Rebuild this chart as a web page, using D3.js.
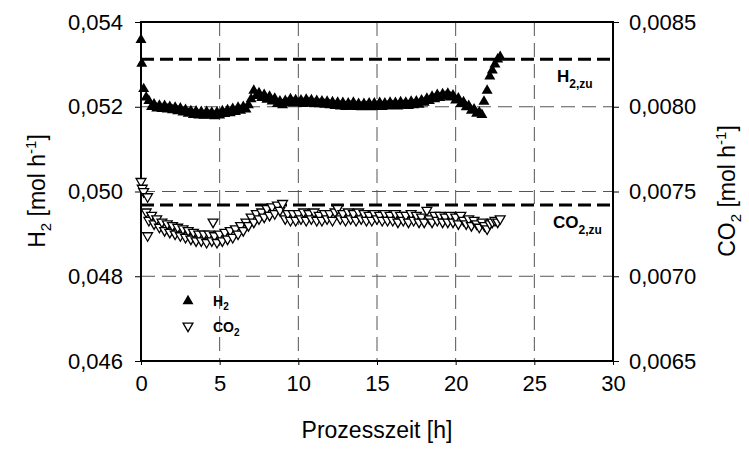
<!DOCTYPE html>
<html>
<head>
<meta charset="utf-8">
<script src="https://cdn.jsdelivr.net/npm/d3@7"></script>
<style>
  html, body { margin: 0; padding: 0; background: #fff; }
  svg { display: block; font-family: "Liberation Sans", Arial, Helvetica, sans-serif; }
</style>
</head>
<body>
<svg id="chart" width="749" height="449"></svg>
<script>
// Process time [h] and measured H2 flow [mol/h]
const h2Time = [0.00, 0.05, 0.17, 0.33, 0.50, 0.67, 0.83, 1.00, 1.17, 1.33, 1.50, 1.67, 1.83, 2.00, 2.17, 2.33, 2.50, 2.67, 2.83, 3.00,
  3.17, 3.33, 3.50, 3.67, 3.83, 4.00, 4.17, 4.33, 4.50, 4.67, 4.83, 5.00, 5.17, 5.33, 5.50, 5.67, 5.83, 6.00, 6.17, 6.33,
  6.50, 6.67, 6.83, 7.00, 7.17, 7.33, 7.50, 7.67, 7.83, 8.00, 8.17, 8.33, 8.50, 8.67, 8.83, 9.00, 9.17, 9.33, 9.50, 9.67,
  9.83, 10.00, 10.17, 10.33, 10.50, 10.67, 10.83, 11.00, 11.17, 11.33, 11.50, 11.67, 11.83, 12.00, 12.17, 12.33, 12.50, 12.67, 12.83, 13.00,
  13.17, 13.33, 13.50, 13.67, 13.83, 14.00, 14.17, 14.33, 14.50, 14.67, 14.83, 15.00, 15.17, 15.33, 15.50, 15.67, 15.83, 16.00, 16.17, 16.33,
  16.50, 16.67, 16.83, 17.00, 17.17, 17.33, 17.50, 17.67, 17.83, 18.00, 18.17, 18.33, 18.50, 18.67, 18.83, 19.00, 19.17, 19.33, 19.50, 19.67,
  19.83, 20.00, 20.17, 20.33, 20.50, 20.67, 20.83, 21.00, 21.17, 21.33, 21.50, 21.67, 21.80, 22.00, 22.17, 22.33, 22.50, 22.67, 22.83];
const h2Flow = [0.05358, 0.05302, 0.05242, 0.05222, 0.05214, 0.05200, 0.05206, 0.05196, 0.05203, 0.05195, 0.05202, 0.05194, 0.05200, 0.05192, 0.05198, 0.05190, 0.05196, 0.05187, 0.05193, 0.05184,
  0.05190, 0.05181, 0.05189, 0.05180, 0.05188, 0.05179, 0.05188, 0.05180, 0.05186, 0.05178, 0.05187, 0.05180, 0.05190, 0.05183, 0.05192, 0.05185, 0.05195, 0.05188, 0.05198, 0.05191,
  0.05200, 0.05194, 0.05204, 0.05218, 0.05238, 0.05226, 0.05232, 0.05221, 0.05228, 0.05217, 0.05224, 0.05213, 0.05219, 0.05207, 0.05213, 0.05204, 0.05214, 0.05208, 0.05218, 0.05209,
  0.05216, 0.05208, 0.05215, 0.05207, 0.05217, 0.05209, 0.05216, 0.05207, 0.05214, 0.05206, 0.05213, 0.05205, 0.05212, 0.05204, 0.05211, 0.05202, 0.05210, 0.05201, 0.05209, 0.05200,
  0.05208, 0.05201, 0.05210, 0.05200, 0.05207, 0.05199, 0.05207, 0.05200, 0.05208, 0.05199, 0.05208, 0.05201, 0.05209, 0.05200, 0.05208, 0.05201, 0.05210, 0.05202, 0.05209, 0.05201,
  0.05211, 0.05203, 0.05210, 0.05202, 0.05212, 0.05204, 0.05213, 0.05205, 0.05215, 0.05210, 0.05219, 0.05214, 0.05224, 0.05218, 0.05228, 0.05221, 0.05230, 0.05224, 0.05231, 0.05222,
  0.05227, 0.05215, 0.05220, 0.05207, 0.05211, 0.05199, 0.05202, 0.05191, 0.05194, 0.05184, 0.05187, 0.05181, 0.05212, 0.05238, 0.05272, 0.05286, 0.05300, 0.05312, 0.05318];

// Process time [h] and measured CO2 flow [mol/h]
const co2Time = [0.00, 0.08, 0.17, 0.42, 0.33, 0.50, 0.42, 0.67, 0.83, 1.00, 1.17, 1.33, 1.50, 1.67, 1.83, 2.00, 2.17, 2.33, 2.50, 2.67,
  2.83, 3.00, 3.17, 3.33, 3.50, 3.67, 3.83, 4.00, 4.17, 4.33, 4.50, 4.58, 4.67, 4.83, 5.00, 5.17, 5.33, 5.50, 5.67, 5.83,
  6.00, 6.17, 6.33, 6.50, 6.67, 6.83, 7.00, 7.17, 7.33, 7.50, 7.67, 7.83, 8.00, 8.17, 8.33, 8.50, 8.67, 8.83, 9.00, 9.17,
  9.33, 9.50, 9.67, 9.83, 10.00, 10.17, 10.33, 10.50, 10.67, 10.83, 11.00, 11.17, 11.33, 11.50, 11.67, 11.83, 12.00, 12.17, 12.33, 12.50,
  12.67, 12.83, 13.00, 13.17, 13.33, 13.50, 13.67, 13.83, 14.00, 14.17, 14.33, 14.50, 14.67, 14.83, 15.00, 15.17, 15.33, 15.50, 15.67, 15.83,
  16.00, 16.17, 16.33, 16.50, 16.67, 16.83, 17.00, 17.17, 17.33, 17.50, 17.67, 17.83, 18.00, 18.17, 18.33, 18.50, 18.67, 18.83, 19.00, 19.17,
  19.33, 19.50, 19.67, 19.83, 20.00, 20.17, 20.33, 20.50, 20.67, 20.83, 21.00, 21.17, 21.33, 21.50, 21.67, 21.83, 22.00, 22.17, 22.33, 22.50,
  22.67, 22.83];
const co2Flow = [0.00756, 0.00752, 0.00750, 0.00747, 0.00738, 0.00733, 0.00724, 0.00736, 0.00731, 0.00734, 0.00729, 0.00732, 0.00727, 0.00731, 0.00726, 0.00730, 0.00725, 0.00729, 0.00724, 0.00728,
  0.00723, 0.00727, 0.00722, 0.00726, 0.00721, 0.00725, 0.00721, 0.00725, 0.00720, 0.00725, 0.00721, 0.00732, 0.00724, 0.00720, 0.00725, 0.00721, 0.00726, 0.00722, 0.00727, 0.00723,
  0.00728, 0.00725, 0.00730, 0.00727, 0.00732, 0.00730, 0.00735, 0.00732, 0.00737, 0.00734, 0.00738, 0.00735, 0.00740, 0.00736, 0.00741, 0.00737, 0.00742, 0.00739, 0.00743, 0.00734,
  0.00737, 0.00733, 0.00737, 0.00733, 0.00737, 0.00734, 0.00738, 0.00733, 0.00737, 0.00734, 0.00738, 0.00733, 0.00736, 0.00733, 0.00737, 0.00734, 0.00737, 0.00733, 0.00738, 0.00740,
  0.00734, 0.00737, 0.00733, 0.00738, 0.00734, 0.00737, 0.00733, 0.00738, 0.00734, 0.00737, 0.00733, 0.00736, 0.00733, 0.00737, 0.00734, 0.00736, 0.00733, 0.00737, 0.00733, 0.00736,
  0.00733, 0.00737, 0.00732, 0.00736, 0.00733, 0.00736, 0.00732, 0.00737, 0.00733, 0.00736, 0.00732, 0.00735, 0.00732, 0.00739, 0.00734, 0.00732, 0.00736, 0.00733, 0.00736, 0.00732,
  0.00735, 0.00732, 0.00736, 0.00732, 0.00735, 0.00731, 0.00736, 0.00733, 0.00731, 0.00734, 0.00730, 0.00733, 0.00731, 0.00729, 0.00732, 0.00730, 0.00728, 0.00731, 0.00732, 0.00733,
  0.00732, 0.00734];

// Feed rates (dashed reference lines)
const h2Feed = 0.05312;
const co2Feed = 0.00742;

// Axis ticks
const timeTicks = [0, 5, 10, 15, 20, 25, 30];
const h2Ticks = [0.046, 0.048, 0.050, 0.052, 0.054];
const co2Ticks = [0.0065, 0.0070, 0.0075, 0.0080, 0.0085];

const svg = d3.select("#chart");
const m = { left: 141, top: 22, right: 613, bottom: 361 };

const x = d3.scaleLinear().domain([0, 30]).range([m.left, m.right]);
const yL = d3.scaleLinear().domain([0.046, 0.054]).range([m.bottom, m.top]);
const yR = d3.scaleLinear().domain([0.0065, 0.0085]).range([m.bottom, m.top]);

const comma = (digits) => (d) => d.toFixed(digits).replace(".", ",");

// Grid lines
const grid = svg.append("g").attr("stroke", "#555").attr("stroke-width", 1).attr("stroke-dasharray", "14,7");
grid.selectAll("line.v").data(timeTicks.slice(1, -1)).join("line")
  .attr("x1", d => x(d)).attr("x2", d => x(d)).attr("y1", m.top).attr("y2", m.bottom);
grid.selectAll("line.h").data(h2Ticks.slice(1, -1)).join("line")
  .attr("x1", m.left).attr("x2", m.right).attr("y1", d => yL(d)).attr("y2", d => yL(d));

// Feed reference lines
svg.append("line").attr("x1", m.left).attr("x2", m.right)
  .attr("y1", yL(h2Feed)).attr("y2", yL(h2Feed))
  .attr("stroke", "#000").attr("stroke-width", 3).attr("stroke-dasharray", "13,6");
svg.append("line").attr("x1", m.left).attr("x2", m.right)
  .attr("y1", yR(co2Feed)).attr("y2", yR(co2Feed))
  .attr("stroke", "#000").attr("stroke-width", 3).attr("stroke-dasharray", "13,6");

// Axes
const axisFont = (g) => g.selectAll("text").attr("font-size", 22).attr("fill", "#000")
  .attr("font-family", "'Liberation Sans', Arial, sans-serif");
const axisStyle = (g) => {
  g.select(".domain").remove();
  g.selectAll(".tick line").attr("stroke", "#000").attr("stroke-width", 1);
  axisFont(g);
};

svg.append("g").attr("transform", `translate(${m.left},0)`)
  .call(d3.axisLeft(yL).tickValues(h2Ticks).tickFormat(comma(3)).tickSize(6).tickPadding(12))
  .call(axisStyle);
svg.append("g").attr("transform", `translate(${m.right},0)`)
  .call(d3.axisRight(yR).tickValues(co2Ticks).tickFormat(comma(4)).tickSize(6).tickPadding(10))
  .call(axisStyle);
svg.append("g").attr("transform", `translate(0,${m.bottom})`)
  .call(d3.axisBottom(x).tickValues(timeTicks).tickFormat(d3.format("d")).tickSize(4).tickPadding(10))
  .call(axisStyle);

// Plot frame
svg.append("rect").attr("x", m.left).attr("y", m.top)
  .attr("width", m.right - m.left).attr("height", m.bottom - m.top)
  .attr("fill", "none").attr("stroke", "#000").attr("stroke-width", 2);

// Data markers
const upTri = d3.symbol().type(d3.symbolTriangle).size(52);
const downTri = d3.symbol().type(d3.symbolTriangle).size(42);

const co2Data = co2Time.map((t, i) => ({ t, v: co2Flow[i] }));
const h2Data = h2Time.map((t, i) => ({ t, v: h2Flow[i] }));

svg.append("g").selectAll("path").data(co2Data).join("path")
  .attr("d", downTri)
  .attr("transform", d => `translate(${x(d.t)},${yR(d.v)}) rotate(180)`)
  .attr("fill", "#fff").attr("stroke", "#000").attr("stroke-width", 1.3);

svg.append("g").selectAll("path").data(h2Data).join("path")
  .attr("d", upTri)
  .attr("transform", d => `translate(${x(d.t)},${yL(d.v)})`)
  .attr("fill", "#000");

// Feed labels
const feedLabel = (px, py, main, sub) => {
  const t = svg.append("text").attr("x", px).attr("y", py)
    .attr("font-size", 17).attr("font-weight", "bold").attr("fill", "#000");
  t.append("tspan").text(main);
  t.append("tspan").attr("dy", 6).attr("font-size", 12).text(sub);
};
feedLabel(557, 82, "H", "2,zu");
feedLabel(553, 228, "CO", "2,zu");

// Legend
const legend = svg.append("g");
legend.append("path").attr("d", upTri).attr("transform", "translate(188,301)").attr("fill", "#000");
legend.append("path").attr("d", downTri).attr("transform", "translate(188,326) rotate(180)")
  .attr("fill", "#fff").attr("stroke", "#000").attr("stroke-width", 1.3);
const legendLabel = (py, main) => {
  const t = legend.append("text").attr("x", 213).attr("y", py)
    .attr("font-size", 14).attr("font-weight", "bold").attr("fill", "#000");
  t.append("tspan").text(main);
  t.append("tspan").attr("dy", 4).attr("font-size", 10).text("2");
};
legendLabel(306, "H");
legendLabel(332, "CO");

// Axis titles
const title = (px, py, rot, parts) => {
  const t = svg.append("text").attr("transform", `translate(${px},${py}) rotate(${rot})`)
    .attr("text-anchor", "middle").attr("font-size", 23).attr("fill", "#000");
  parts.forEach(p => {
    const s = t.append("tspan").text(p.s);
    if (p.dy) s.attr("dy", p.dy);
    if (p.fs) s.attr("font-size", p.fs);
  });
};
title(45, 191, -90, [{ s: "H" }, { s: "2", dy: 6, fs: 15 }, { s: " [mol h", dy: -6 }, { s: "-1", dy: -9, fs: 15 }, { s: "]", dy: 9 }]);
title(735, 191, -90, [{ s: "CO" }, { s: "2", dy: 6, fs: 15 }, { s: " [mol h", dy: -6 }, { s: "-1", dy: -9, fs: 15 }, { s: "]", dy: 9 }]);
svg.append("text").attr("x", 377).attr("y", 438).attr("text-anchor", "middle")
  .attr("font-size", 23).attr("fill", "#000").text("Prozesszeit [h]");
</script>
</body>
</html>
